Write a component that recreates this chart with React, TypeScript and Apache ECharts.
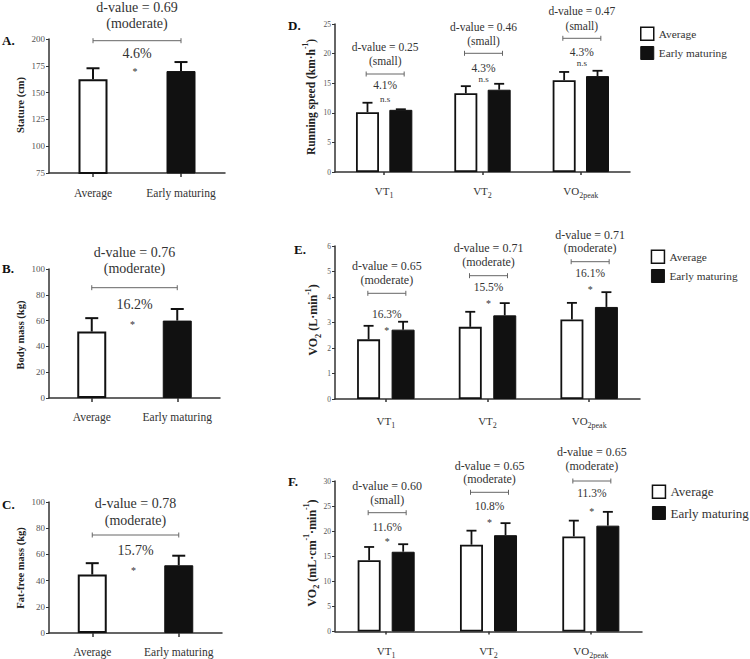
import React, { useEffect, useRef } from "react";
import * as echarts from "echarts";

// ---------- data ----------
const groupCats = ["Average", "Early maturing"];
const statureMean = [162.5, 170.1];
const statureSd = [10.2, 8.4];
const bodyMassMean = [51.5, 60.0];
const bodyMassSd = [10.4, 9.0];
const ffmMean = [44.6, 51.7];
const ffmSd = [8.7, 7.3];

const thresholdCats = ["VT1", "VT2", "VO2peak"];
const speedAvg = [10.1, 13.3, 15.5];
const speedAvgSd = [1.6, 1.2, 1.4];
const speedEarly = [10.5, 13.9, 16.2];
const speedEarlySd = [0.1, 1.0, 0.9];
const vo2AbsAvg = [2.34, 2.83, 3.12];
const vo2AbsAvgSd = [0.53, 0.59, 0.65];
const vo2AbsEarly = [2.72, 3.28, 3.61];
const vo2AbsEarlySd = [0.31, 0.48, 0.58];
const vo2RelAvg = [14.2, 17.3, 18.95];
const vo2RelAvgSd = [2.65, 2.8, 3.15];
const vo2RelEarly = [15.9, 19.2, 21.1];
const vo2RelEarlySd = [1.5, 2.4, 2.75];

// axis ranges [min, max, interval]
const yRanges = [
  [75, 200, 25],
  [0, 100, 20],
  [0, 100, 20],
  [0, 25, 5],
  [0, 6, 1],
  [0, 30, 5],
];

// annotations
const bodyDValues = ["0.69", "0.76", "0.78"];
const bodyEffects = ["moderate", "moderate", "moderate"];
const bodyPct = ["4.6%", "16.2%", "15.7%"];
const speedD = ["0.25", "0.46", "0.47"];
const speedEff = ["small", "small", "small"];
const speedPct = ["4.1%", "4.3%", "4.3%"];
const speedSig = ["n.s", "n.s", "n.s"];
const vo2AbsD = ["0.65", "0.71", "0.71"];
const vo2AbsEff = ["moderate", "moderate", "moderate"];
const vo2AbsPct = ["16.3%", "15.5%", "16.1%"];
const vo2AbsSig = ["*", "*", "*"];
const vo2RelD = ["0.60", "0.65", "0.65"];
const vo2RelEff = ["small", "moderate", "moderate"];
const vo2RelPct = ["11.6%", "10.8%", "11.3%"];
const vo2RelSig = ["*", "*", "*"];

const panelLetters = ["A.", "B.", "C.", "D.", "E.", "F."];

// ---------- layout / style ----------
const FONT = "Liberation Serif";
const INK = "#111";
const AX = "#333";
const TXT = "#333";

const grids = [
  { left: 49, top: 39, width: 176, height: 134 },
  { left: 49, top: 269, width: 171, height: 129 },
  { left: 49, top: 502, width: 173, height: 131 },
  { left: 335, top: 24, width: 295, height: 148 },
  { left: 335, top: 246, width: 305, height: 153 },
  { left: 335, top: 481, width: 307, height: 152 },
];
const letterPos = [
  [2, 40],
  [2, 268.7],
  [2, 504.7],
  [288, 25],
  [294, 249],
  [288, 481],
];
const xLabelMargin = [14, 13, 13, 11, 14, 11.5];
// [dY, effY, bracketY, pctY, sigY]
const bodyAnnY = [
  [7, 23, 40.7, 53, 69],
  [252, 268, 287.7, 304, 322],
  [503, 520, 535, 550, 568],
];
const thrAnnY = [
  [
    [47, 61, 74, 85.3, 99.3],
    [26.7, 40.7, 53.3, 67.7, 79],
    [11.3, 25.7, 38.3, 52.3, 63.3],
  ],
  [
    [266, 280, 293.3, 314.3, 328.3],
    [248.3, 261.7, 275.7, 287.3, 301.7],
    [234.7, 248.3, 261.7, 273.3, 287.3],
  ],
  [
    [485.7, 500, 512.7, 526.7, 539.3],
    [465.7, 479.3, 492.3, 506, 520],
    [451.7, 465.7, 481, 493.3, 509.3],
  ],
];
const thrBarGap = [0.45, 0.5, 0.48];
const legendPos = [
  { left: 640, top: 26.5, gap: 5, size: 13, font: 11.3 },
  { left: 650.7, top: 249.5, gap: 5, size: 13, font: 11.3 },
  { left: 651.7, top: 484.5, gap: 7, size: 13, font: 13 },
];

const whiteItem = { color: "#fff", borderColor: INK, borderWidth: 2 };
const blackItem = { color: INK, borderColor: INK, borderWidth: 1 };

function errSeries(
  idx: number,
  means: number[],
  sds: number[],
  offset: number,
  capHalf: number,
  lw: number
) {
  return {
    type: "custom",
    xAxisIndex: idx,
    yAxisIndex: idx,
    silent: true,
    z: 5,
    data: means.map((m, i) => [i, m, sds[i]]),
    encode: { x: 0, y: 1 },
    renderItem: (_p: any, api: any) => {
      const c = api.value(0);
      const m = api.value(1);
      const s = api.value(2);
      const p0 = api.coord([c, m]);
      const p1 = api.coord([c, m + s]);
      const x = p0[0] + offset;
      return {
        type: "group",
        children: [
          {
            type: "line",
            shape: { x1: x, y1: p0[1], x2: x, y2: p1[1] },
            style: { stroke: INK, lineWidth: lw },
          },
          {
            type: "line",
            shape: { x1: x - capHalf, y1: p1[1], x2: x + capHalf, y2: p1[1] },
            style: { stroke: INK, lineWidth: lw },
          },
        ],
      };
    },
  };
}

function text(x: number, y: number, s: string, size: number, extra: any = {}) {
  return {
    type: "text",
    x,
    y,
    silent: true,
    style: {
      text: s,
      fontSize: size,
      fontFamily: FONT,
      fill: TXT,
      align: "center",
      verticalAlign: "middle",
      ...extra,
    },
  };
}

function bracket(x1: number, x2: number, y: number) {
  const st = { stroke: "#666", lineWidth: 1 };
  return [
    { type: "line", silent: true, shape: { x1, y1: y, x2, y2: y }, style: st },
    { type: "line", silent: true, shape: { x1, y1: y - 2.5, x2: x1, y2: y + 2.5 }, style: st },
    { type: "line", silent: true, shape: { x1: x2, y1: y - 2.5, x2, y2: y + 2.5 }, style: st },
  ];
}

function richTitle(x: number, y: number, parts: [string, string][], size: number) {
  const str = parts.map(([k, t]) => `{${k}|${t}}`).join("");
  const base = { fontSize: size, fontFamily: FONT, fontWeight: "bold", fill: "#222", lineHeight: size + 6 };
  return {
    type: "text",
    x,
    y,
    rotation: Math.PI / 2,
    silent: true,
    style: {
      text: str,
      align: "center",
      verticalAlign: "middle",
      fontSize: size,
      fontFamily: FONT,
      fontWeight: "bold",
      fill: "#222",
      rich: {
        b: base,
        sub: { ...base, fontSize: size * 0.7, verticalAlign: "bottom" },
        sup: { ...base, fontSize: size * 0.65, verticalAlign: "top" },
      },
    },
  };
}

function buildOption() {
  const xAxis: any[] = [];
  const yAxis: any[] = [];
  const series: any[] = [];
  const graphic: any[] = [];

  grids.forEach((g, i) => {
    const small = i >= 3;
    xAxis.push({
      type: "category",
      gridIndex: i,
      data: small ? thresholdCats : groupCats,
      axisLine: { show: true, lineStyle: { color: AX, width: 1.5 } },
      axisTick: { show: true, alignWithLabel: true, length: small ? 3 : 4, lineStyle: { color: AX, width: 1.5 } },
      axisLabel: {
        fontFamily: FONT,
        fontSize: small ? 11 : 11.5,
        color: TXT,
        margin: xLabelMargin[i],
        interval: 0,
        formatter: small
          ? (v: string) => {
              const m = v.match(/^([A-Z]+)(.*)$/);
              return m ? `{b|${m[1]}}{s|${m[2]}}` : v;
            }
          : undefined,
        rich: small
          ? {
              b: { fontFamily: FONT, fontSize: 11, color: TXT, lineHeight: 16 },
              s: { fontFamily: FONT, fontSize: 8, color: TXT, lineHeight: 16, verticalAlign: "bottom" },
            }
          : undefined,
      },
    });
    const [mn, mx, iv] = yRanges[i];
    yAxis.push({
      type: "value",
      gridIndex: i,
      min: mn,
      max: mx,
      interval: iv,
      splitLine: { show: false },
      axisLine: { show: true, lineStyle: { color: AX, width: 1.5 } },
      axisTick: { show: true, length: 3, lineStyle: { color: AX, width: 1 } },
      axisLabel: { fontFamily: FONT, fontSize: small ? 7.5 : 9, color: "#555", margin: 4 },
    });
  });

  // panels A-C
  const bodyData = [
    [statureMean, statureSd, "Stature"],
    [bodyMassMean, bodyMassSd, "Body mass"],
    [ffmMean, ffmSd, "Fat-free mass"],
  ] as [number[], number[], string][];
  bodyData.forEach(([m, s, name], i) => {
    series.push({
      type: "bar",
      name,
      xAxisIndex: i,
      yAxisIndex: i,
      barWidth: 29,
      silent: true,
      data: m.map((v, j) => ({ value: v, itemStyle: j === 0 ? whiteItem : blackItem })),
    });
    series.push(errSeries(i, m, s, 0, 6.5, 2));
  });

  // panels D-F
  const thrData = [
    [speedAvg, speedAvgSd, speedEarly, speedEarlySd],
    [vo2AbsAvg, vo2AbsAvgSd, vo2AbsEarly, vo2AbsEarlySd],
    [vo2RelAvg, vo2RelAvgSd, vo2RelEarly, vo2RelEarlySd],
  ];
  thrData.forEach(([a, as, e, es], k) => {
    const i = k + 3;
    const bw = 23;
    const gap = thrBarGap[k];
    const off = (bw + bw * gap) / 2;
    series.push({
      type: "bar",
      name: "Average",
      xAxisIndex: i,
      yAxisIndex: i,
      barWidth: bw,
      barGap: `${gap * 100}%`,
      silent: true,
      itemStyle: { color: "#fff", borderColor: INK, borderWidth: 1.8 },
      data: a,
    });
    series.push({
      type: "bar",
      name: "Early maturing",
      xAxisIndex: i,
      yAxisIndex: i,
      barWidth: bw,
      barGap: `${gap * 100}%`,
      silent: true,
      itemStyle: { color: INK, borderColor: INK, borderWidth: 1 },
      data: e,
    });
    series.push(errSeries(i, a, as, -off, 5, 1.8));
    series.push(errSeries(i, e, es, off, 5, 1.8));
  });

  // panel letters
  panelLetters.forEach((l, i) => {
    graphic.push(
      text(letterPos[i][0], letterPos[i][1], l, 13, { align: "left", fontWeight: "bold", fill: "#111" })
    );
  });

  // y titles
  graphic.push(richTitle(20, 105, [["b", "Stature (cm)"]], 10.5));
  graphic.push(richTitle(20, 335, [["b", "Body mass (kg)"]], 10.5));
  graphic.push(richTitle(20, 568, [["b", "Fat-free mass (kg)"]], 10.5));
  graphic.push(
    richTitle(311, 97, [["b", "Running speed (km·h"], ["sup", "-1"], ["b", ")"]], 11.5)
  );
  graphic.push(
    richTitle(313, 320, [["b", "VO"], ["sub", "2"], ["b", " (L·min"], ["sup", "-1"], ["b", ")"]], 12)
  );
  graphic.push(
    richTitle(
      311.7,
      553,
      [["b", "VO"], ["sub", "2"], ["b", " (mL·cm"], ["sup", "-1"], ["b", "·min"], ["sup", "-1"], ["b", ")"]],
      12
    )
  );

  // annotations A-C
  for (let i = 0; i < 3; i++) {
    const g = grids[i];
    const c1 = g.left + g.width * 0.25;
    const c2 = g.left + g.width * 0.75;
    const cx = g.left + g.width / 2;
    const [dy, ey, by, py, sy] = bodyAnnY[i];
    graphic.push(text(cx, dy, `d-value = ${bodyDValues[i]}`, 14));
    graphic.push(text(cx, ey, `(${bodyEffects[i]})`, 14));
    graphic.push(...bracket(c1, c2, by));
    graphic.push(text(cx, py, bodyPct[i], 14));
    graphic.push(text(cx - 2, sy + 2, "*", 10));
  }

  // annotations D-F
  const thrAnn = [
    [speedD, speedEff, speedPct, speedSig],
    [vo2AbsD, vo2AbsEff, vo2AbsPct, vo2AbsSig],
    [vo2RelD, vo2RelEff, vo2RelPct, vo2RelSig],
  ];
  thrAnn.forEach(([dv, ef, pc, sg], k) => {
    const g = grids[k + 3];
    const fs = k === 0 ? 11.5 : 12;
    for (let j = 0; j < 3; j++) {
      const cx = g.left + (g.width * (j + 0.5)) / 3 + 1;
      const [dy, ey, by, py, sy] = thrAnnY[k][j];
      graphic.push(text(cx, dy, `d-value = ${dv[j]}`, fs));
      graphic.push(text(cx, ey, `(${ef[j]})`, fs));
      graphic.push(...bracket(cx - 19, cx + 19, by));
      graphic.push(text(cx, py, pc[j], 11.5));
      if (sg[j] === "*") graphic.push(text(cx, sy + 2, "*", 10));
      else graphic.push(text(cx, sy, sg[j], 9));
    }
  });

  const legend = legendPos.map((p) => ({
    left: p.left,
    top: p.top,
    orient: "vertical",
    padding: 0,
    itemWidth: p.size,
    itemHeight: p.size,
    itemGap: p.gap,
    selectedMode: false,
    icon: "rect",
    textStyle: { fontFamily: FONT, fontSize: p.font, color: TXT },
    data: [
      { name: "Average", itemStyle: { color: "#fff", borderColor: INK, borderWidth: 1.5 } },
      { name: "Early maturing", itemStyle: { color: INK, borderColor: INK, borderWidth: 1 } },
    ],
  }));

  return {
    animation: false,
    backgroundColor: "#fff",
    textStyle: { fontFamily: FONT },
    grid: grids.map((g) => ({ ...g, containLabel: false })),
    xAxis,
    yAxis,
    series,
    legend,
    graphic,
  };
}

export default function App() {
  const ref = useRef<HTMLDivElement>(null);
  useEffect(() => {
    if (!ref.current) return;
    const chart = echarts.init(ref.current, null, { renderer: "svg" });
    chart.setOption(buildOption() as any);
    return () => chart.dispose();
  }, []);
  return (
    <div
      ref={ref}
      style={{ position: "absolute", left: 0, top: 0, width: 750, height: 659, background: "#fff" }}
    />
  );
}
